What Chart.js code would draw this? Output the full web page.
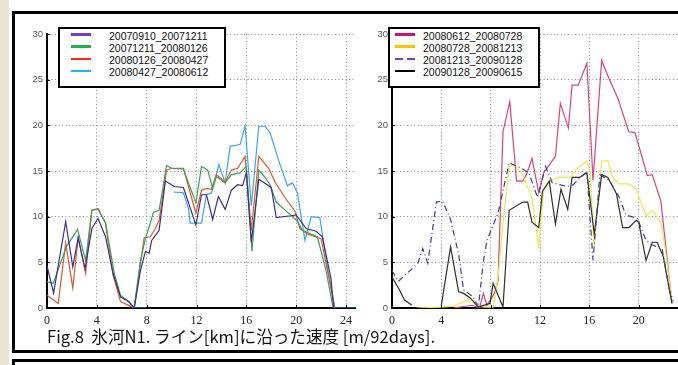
<!DOCTYPE html>
<html>
<head>
<meta charset="utf-8">
<script src="https://cdn.jsdelivr.net/npm/chart.js@4.4.0/dist/chart.umd.min.js"></script>
<style>
html, body { margin: 0; padding: 0; width: 678px; height: 365px; overflow: hidden; background: #fff; }
#strip { position: absolute; left: 0; top: 0; width: 9px; height: 365px; background: #e9e4d0; }
.box { position: absolute; left: 12px; width: 720px; border: 3px solid #000; box-sizing: border-box; }
#box1 { top: 11px; height: 342px; }
#box2 { top: 359px; height: 40px; }
canvas { position: absolute; }
#c1 { left: 15px; top: 14px; }
#c2 { left: 360px; top: 14px; }
.lg { position: absolute; top: 27px; width: 168px; height: 61px; border: 2px solid #000; background: #fff;
      box-sizing: border-box; font: 10.5px "Liberation Sans", Arial, sans-serif; color: #111; z-index: 5; }
.lg .s { position: absolute; left: 11px; width: 20px; height: 2.5px; }
.lg .t { position: absolute; left: 49px; line-height: 12px; white-space: nowrap; }
#lg1 { left: 58px; }
#lg2 { left: 388px; width: 152px; }
#lg2 .s { left: 5px; }
#lg2 .t { left: 33px; }
#cap { position: absolute; left: 47px; top: 326px; font: 16.6px "Noto Sans CJK JP", sans-serif; color: #111; line-height: 20px; white-space: nowrap; }
</style>
</head>
<body>
<div id="strip"></div>
<div class="box" id="box1"></div>
<div class="box" id="box2"></div>
<canvas id="c1" width="343" height="318"></canvas>
<canvas id="c2" width="340" height="318"></canvas>
<div class="lg" id="lg1"></div>
<div class="lg" id="lg2"></div>
<div id="cap">Fig.8&nbsp; 氷河N1. ライン[km]に沿った速度 [m/92days].</div>
<script>
// axis ticks
const ticksX = [0, 4, 8, 12, 16, 20, 24];
const ticksY = [0, 5, 10, 15, 20, 25, 30];

// left panel
const labelsL = ['20070910_20071211', '20071211_20080126', '20080126_20080427', '20080427_20080612'];
const keyL = ['#7a3fb8', '#1db34a', '#ff2a1a', '#1ab4f0'];
const lineL = ['#3b2f8c', '#3aa05a', '#e2552e', '#3aa6e6'];

const km1 = [0, 0.53, 1.5, 2.07, 2.5, 3.05, 3.6, 4.1, 4.7, 5.3, 5.9, 6.6, 7.0, 7.5, 7.9, 8.2, 8.4, 9.0, 9.5, 10.2, 10.95, 11.95, 12.4, 12.8, 13.3, 13.75, 14.3, 14.8, 15.3, 15.7, 16.0, 16.4, 17.0, 18.0, 18.4, 19.6, 20.0, 20.8, 21.6, 22.1, 22.8, 23.0];
const v1 = [4.6, 1.65, 9.45, 4.5, 7.7, 4.3, 8.7, 9.8, 7.8, 3.8, 1.2, 0.7, 0, 4.1, 6.2, 6.0, 7.4, 8.5, 13.9, 13.3, 13.2, 9.1, 12.4, 12.4, 9.7, 12.2, 10.8, 12.9, 13.5, 13.4, 14.8, 7.2, 14.1, 13.2, 9.9, 10.1, 10.2, 8.7, 8.4, 7.8, 3.2, 0];

const km2 = [0, 0.5, 1.55, 2.45, 3.1, 3.6, 4.1, 4.7, 5.4, 5.9, 6.45, 7.0, 7.5, 7.9, 8.2, 8.55, 9.0, 9.6, 10.0, 10.95, 11.95, 12.4, 12.9, 13.3, 13.6, 14.3, 14.8, 15.5, 16.0, 16.45, 17.0, 17.45, 17.9, 18.4, 18.8, 19.7, 20.1, 20.5, 21.0, 21.7, 22.4, 22.9, 23.0];
const v2 = [2.9, 2.7, 6.7, 8.6, 5.2, 10.7, 10.8, 9.3, 3.8, 1.4, 0.8, 0, 5.2, 7.6, 8.9, 10.5, 10.7, 15.6, 15.3, 15.2, 11.5, 15.5, 15.1, 13.1, 14.4, 13.7, 14.6, 14.8, 15.5, 6.2, 15.1, 14.4, 13.5, 11.6, 11.1, 10.0, 9.5, 8.5, 8.2, 7.8, 4.1, 0.5, 0];

const km3 = [0, 0.9, 1.5, 2.07, 2.5, 3.1, 3.6, 4.1, 4.7, 5.3, 5.9, 6.85, 7.0, 7.8, 8.3, 8.7, 9.0, 9.6, 10.0, 10.95, 11.95, 12.4, 12.8, 13.2, 13.6, 14.3, 14.8, 15.3, 15.9, 16.4, 17.0, 17.8, 18.3, 19.1, 19.9, 20.3, 20.9, 22.0, 23.1];
const v3 = [1.4, 0.5, 7.1, 2.2, 7.7, 3.8, 10.7, 10.9, 9.3, 3.6, 0.7, 0.1, 0, 7.7, 7.8, 8.7, 9.6, 15.1, 15.3, 15.3, 10.4, 12.9, 13.1, 13.0, 14.6, 13.8, 15.1, 15.3, 16.6, 8.5, 16.6, 15.3, 13.8, 12.1, 10.6, 8.7, 8.1, 7.6, 0.1];

const km4 = [7.0, 7.9, 9.0, 10.15, 10.95, 11.35, 11.5, 12.15, 12.4, 12.8, 13.2, 13.8, 14.3, 14.7, 15.5, 15.9, 16.4, 17.0, 17.5, 17.9, 18.7, 19.3, 19.7, 20.1, 20.7, 21.2, 21.9, 22.5, 23.1, 24.9];
const v4 = [0, 0, null, 12.7, 12.6, 10.9, 9.3, 9.3, 9.3, 12.4, 12.6, 15.7, 13.7, 17.7, 17.9, 19.9, 11.2, 19.9, 19.9, 19.2, 15.7, 13.4, 13.7, 12.6, 7.4, 10.0, 9.9, 4.5, 0, 0];

// right panel
const labelsR = ['20080612_20080728', '20080728_20081213', '20081213_20090128', '20090128_20090615'];
const keyR = ['#d4106c', '#ffc400', '#7a3fb8', '#000000'];
const lineR = ['#d8427f', '#ecea4a', '#3a3f8a', '#2e2e2e'];

const km5 = [5.0, 6.5, 7.1, 7.4, 7.7, 8.3, 8.6, 9.0, 9.55, 10.1, 10.6, 10.9, 11.35, 11.9, 12.3, 13.25, 13.65, 14.3, 14.6, 15.1, 15.8, 16.3, 17.0, 17.6, 18.3, 19.2, 19.7, 20.7, 21.1, 21.8, 22.7];
const v5 = [0, 0.3, 0, 1.6, 0.3, 1.6, 3.0, 19.3, 22.6, 13.9, 13.9, 14.6, 16.4, 12.6, 14.8, 16.6, 22.4, 19.7, 24.4, 24.4, 26.8, 14.0, 27.1, 25.1, 23.0, 19.3, 19.2, 14.5, 14.6, 11.7, 0.5];

const km6 = [2.0, 4.0, 5.0, 5.8, 6.35, 7.0, 7.5, 8.2, 8.6, 9.1, 9.5, 9.95, 10.6, 11.35, 11.9, 12.3, 12.85, 13.5, 14.45, 15.1, 15.8, 16.05, 16.4, 17.0, 17.5, 17.9, 18.4, 19.2, 19.8, 20.6, 21.1, 21.8, 22.1, 22.7];
const v6 = [0, 0.1, 0.2, 0.7, 0.9, 0.2, 0.1, 0.1, 3.4, 10.7, 15.5, 15.7, 14.6, 12.0, 6.7, 12.9, 13.9, 14.3, 14.3, 15.4, 16.1, 15.0, 6.7, 16.1, 16.1, 14.3, 13.6, 13.6, 13.0, 10.1, 10.7, 9.4, 7.0, 0.9];

const km7 = [0, 0.5, 2.1, 2.5, 2.9, 3.6, 4.1, 4.75, 5.4, 5.8, 6.6, 7.0, 7.4, 7.7, 8.6, 9.5, 10.35, 11.1, 11.8, 12.45, 13.0, 14.2, 14.7, 15.2, 15.8, 16.3, 16.85, 17.6, 18.4, 18.95, 19.9, 20.6, 21.1, 21.9, 22.5, 22.8];
const v7 = [4.1, 2.9, 4.9, 6.5, 4.9, 11.6, 11.7, 9.7, 5.9, 2.0, 1.2, 0.1, 5.0, 7.4, 10.4, 15.9, 15.4, 14.8, 12.1, 15.5, 13.7, 13.3, 13.5, 14.2, 14.9, 5.2, 14.6, 14.0, 12.2, 10.2, 9.8, 7.4, 6.9, 6.5, 1.9, 0.8];

const km8 = [0, 0.6, 1.0, 1.6, 2.8, 4.0, 4.75, 5.4, 5.8, 6.35, 7.0, 7.95, 8.2, 9.0, 9.5, 10.6, 11.0, 11.35, 11.9, 12.2, 12.75, 13.25, 13.7, 14.25, 14.6, 15.2, 15.8, 16.4, 17.0, 17.5, 18.2, 18.7, 19.2, 19.8, 20.0, 20.6, 21.1, 21.5, 22.0, 22.7];
const v8 = [3.4, 2.0, 0.9, 0.3, null, 0.3, 6.7, 1.8, 1.6, 1.1, 0.1, 0.5, 2.7, 0.1, 10.7, 11.6, 11.6, 9.4, 8.8, 12.8, 13.9, 9.2, 13.0, 10.8, 14.3, 14.3, 14.8, 8.1, 14.6, 14.3, 12.5, 8.8, 8.8, 9.6, 9.4, 5.2, 7.2, 7.2, 5.6, 0.5];

function pts(km, v) {
    return km.map((x, i) => ({ x: x, y: v[i] }));
}

function ds(km, v, color, dash) {
    return {
        data: pts(km, v),
        borderColor: color,
        borderWidth: 1.2,
        borderDash: dash || [],
        pointRadius: 0,
        tension: 0,
        spanGaps: false,
        fill: false
    };
}

// small tick marks pointing into the plot
const inTicks = {
    id: 'inTicks',
    afterDraw(c) {
        let ctx = c.ctx, a = c.chartArea, x = c.scales.x, y = c.scales.y;
        ctx.save();
        ctx.strokeStyle = '#000';
        ctx.lineWidth = 1;
        ctx.beginPath();
        ticksY.forEach(v => {
            let p = Math.round(y.getPixelForValue(v)) + 0.5;
            ctx.moveTo(a.left, p); ctx.lineTo(a.left + 3, p);
        });
        ticksX.forEach(v => {
            let p = Math.round(x.getPixelForValue(v)) + 0.5;
            if (p < a.right) { ctx.moveTo(p, a.bottom); ctx.lineTo(p, a.bottom - 3); }
        });
        ctx.stroke();
        ctx.restore();
    }
};

function opts(xmax) {
    return {
        responsive: false,
        animation: false,
        devicePixelRatio: 1,
        layout: { padding: { top: 20, left: 0, right: 0, bottom: 0 } },
        plugins: { legend: { display: false }, tooltip: { enabled: false } },
        scales: {
            x: {
                type: 'linear', min: 0, max: xmax,
                afterBuildTicks: s => { s.ticks = ticksX.map(v => ({ value: v })); },
                afterFit: s => { s.height = 24; },
                grid: { color: '#8c8c8c', lineWidth: 1, drawTicks: false },
                border: { display: true, color: '#000', width: 2, dash: [1, 2.5] },
                ticks: { padding: 6, color: '#222', font: { family: 'Liberation Serif', size: 12 }, maxRotation: 0 }
            },
            y: {
                type: 'linear', min: 0, max: 30,
                afterBuildTicks: s => { s.ticks = ticksY.map(v => ({ value: v })); },
                afterFit: s => { s.width = 32; },
                grid: { color: '#8c8c8c', lineWidth: 1, drawTicks: false },
                border: { display: true, color: '#000', width: 2, dash: [1, 2.5] },
                ticks: { padding: 4, color: '#555', font: { family: 'Liberation Sans', size: 9.5 } }
            }
        }
    };
}

let chart1 = new Chart(document.querySelector('#c1'), {
    type: 'line',
    data: {
        datasets: [
            ds(km1, v1, lineL[0]),
            ds(km2, v2, lineL[1]),
            ds(km3, v3, lineL[2]),
            ds(km4, v4, lineL[3])
        ]
    },
    options: opts(24.74),
    plugins: [inTicks]
});

let chart2 = new Chart(document.querySelector('#c2'), {
    type: 'line',
    data: {
        datasets: [
            ds(km7, v7, lineR[2], [6, 3, 1, 3]),
            ds(km8, v8, lineR[3]),
            ds(km6, v6, lineR[1]),
            ds(km5, v5, lineR[0])
        ]
    },
    options: opts(24.54),
    plugins: [inTicks]
});

// legends drawn as html boxes
function legend(id, labels, colors, dashed) {
    let el = document.querySelector(id);
    let html = '';
    labels.forEach((t, i) => {
        let top = 4 + i * 12.3;
        let bg = colors[i];
        if (dashed[i]) {
            bg = 'linear-gradient(to right,' + colors[i] + ' 0 8px, transparent 8px 12px,' + colors[i] + ' 12px 20px)';
        }
        html += '<div class="s" style="top:' + top + 'px;background:' + bg + '"></div>';
        html += '<div class="t" style="top:' + (top - 3.5) + 'px">' + t + '</div>';
    });
    el.innerHTML = html;
}
legend('#lg1', labelsL, keyL, [false, false, false, false]);
legend('#lg2', labelsR, keyR, [false, false, true, false]);
</script>
</body>
</html>
